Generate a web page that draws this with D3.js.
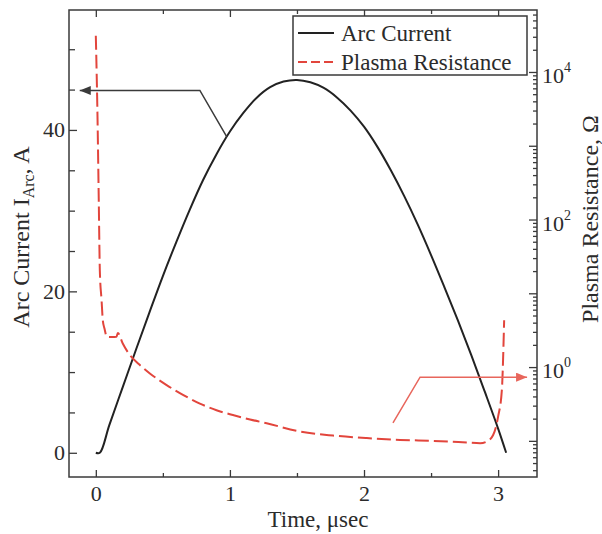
<!DOCTYPE html>
<html><head><meta charset="utf-8">
<script src="https://cdn.jsdelivr.net/npm/d3@7/dist/d3.min.js"></script>
<style>
body{margin:0;background:#fff}
text{font-family:"Liberation Serif","Times New Roman",serif;fill:#2b2b2b}
</style>
</head><body>
<svg id="chart" width="602" height="534"></svg>
<script>
// ---- data ----
const currentTime = [0, 0.03, 0.1, 0.2, 0.3, 0.4, 0.5, 0.6, 0.7, 0.8, 0.9, 1.0, 1.1, 1.2, 1.3, 1.4, 1.5, 1.6, 1.7, 1.8, 1.9, 2.0, 2.1, 2.2, 2.3, 2.4, 2.5, 2.6, 2.7, 2.8, 2.9, 3.0, 3.06];
const currentValues = [0, 0, 3.4, 8.1, 12.8, 17.4, 21.9, 26.1, 30.1, 33.8, 37.0, 39.8, 42.1, 44.0, 45.3, 46.0, 46.2, 45.9, 45.2, 44.0, 42.4, 40.4, 37.9, 35.0, 31.8, 28.3, 24.5, 20.5, 16.4, 12.1, 7.6, 3.0, 0];
const resistanceTime = [0, 0.013, 0.022, 0.03, 0.043, 0.052, 0.065, 0.082, 0.12, 0.154, 0.164, 0.2, 0.254, 0.32, 0.403, 0.528, 0.65, 0.776, 0.9, 1.022, 1.15, 1.274, 1.522, 1.769, 2.02, 2.269, 2.515, 2.766, 2.866, 2.916, 2.963, 3.0, 3.028, 3.045];
const resistanceValues = [3.1e4, 2.2e3, 180, 20, 8, 4.3, 3.3, 2.57, 2.55, 2.57, 2.9, 2.1, 1.45, 1.1, 0.82, 0.57, 0.42, 0.32, 0.26, 0.224, 0.195, 0.173, 0.134, 0.118, 0.109, 0.103, 0.1, 0.095, 0.093, 0.098, 0.12, 0.213, 0.49, 4.3];
const xTicks = [0, 1, 2, 3];
const xMinorTicks = [0.5, 1.5, 2.5];
const leftTicks = [0, 20, 40];
const leftMinorTicks = [5, 10, 15, 25, 30, 35, 45, 50];
const rightDecades = [0.1, 1, 10, 100, 1000, 10000];
const rightLabelTicks = [1, 100, 10000];
const rightLabelExp = ["0", "2", "4"];
const seriesNames = ["Arc Current", "Plasma Resistance"];
// annotation arrows (data coordinates)
const currentArrowT = [0.978, 0.776, -0.12];
const currentArrowI = [39.1, 44.9, 44.9];
const resArrowT = [2.216, 2.418, 3.216];
const resArrowR = [0.175, 0.73, 0.73];

// ---- layout ----
const L = 69, T = 10, R = 537, B = 477;
const svg = d3.select("#chart");
const x = d3.scaleLinear().domain([-0.2, 3.29]).range([L, R]);
const yL = d3.scaleLinear().domain([-3, 54.86]).range([B, T]);
const yR = d3.scaleLog().domain([Math.pow(10, -1.49), Math.pow(10, 4.84)]).range([B, T]);

const axisColor = "#3a3a3a";
const red = "#e2453c";

function styleAxis(g) {
  g.select(".domain").remove();
  g.selectAll(".tick line").attr("stroke", axisColor).attr("stroke-width", 1.3);
  g.selectAll(".tick text").attr("font-size", 22).attr("fill", "#2b2b2b")
   .attr("font-family", '"Liberation Serif","Times New Roman",serif');
}

// bottom axis
svg.append("g").attr("transform", `translate(0,${B})`)
  .call(d3.axisBottom(x).tickValues(xTicks).tickSize(-7).tickPadding(8).tickFormat(d3.format("d")))
  .call(styleAxis);
svg.append("g").attr("transform", `translate(0,${B})`)
  .call(d3.axisBottom(x).tickValues(xMinorTicks).tickSize(-4).tickFormat(""))
  .call(styleAxis);
// top axis
svg.append("g").attr("transform", `translate(0,${T})`)
  .call(d3.axisTop(x).tickValues(xTicks).tickSize(-7).tickFormat(""))
  .call(styleAxis);
svg.append("g").attr("transform", `translate(0,${T})`)
  .call(d3.axisTop(x).tickValues(xMinorTicks).tickSize(-4).tickFormat(""))
  .call(styleAxis);
// left axis
svg.append("g").attr("transform", `translate(${L},0)`)
  .call(d3.axisLeft(yL).tickValues(leftTicks).tickSize(-8).tickPadding(4))
  .call(styleAxis);
svg.append("g").attr("transform", `translate(${L},0)`)
  .call(d3.axisLeft(yL).tickValues(leftMinorTicks).tickSize(-6).tickFormat(""))
  .call(styleAxis);
// right axis (log)
const minorR = [];
rightDecades.forEach(d => { for (let k = 2; k <= 9; k++) { const v = d * k; if (v < yR.domain()[1]) minorR.push(v); } });
minorR.push(0.04, 0.05, 0.06, 0.07, 0.08, 0.09);
svg.append("g").attr("transform", `translate(${R},0)`)
  .call(d3.axisRight(yR).tickValues(minorR).tickSize(-4).tickFormat(""))
  .call(styleAxis);
svg.append("g").attr("transform", `translate(${R},0)`)
  .call(d3.axisRight(yR).tickValues(rightDecades).tickSize(-8).tickFormat(""))
  .call(styleAxis);
const rl = svg.append("g").selectAll("text").data(rightLabelTicks).join("text")
  .attr("x", R + 5).attr("y", d => yR(d) + 11).attr("font-size", 22);
rl.append("tspan").text("10");
rl.append("tspan").attr("font-size", 14).attr("dy", -11).text((d, i) => rightLabelExp[i]);

// frame
svg.append("rect").attr("x", L).attr("y", T).attr("width", R - L).attr("height", B - T)
  .attr("fill", "none").attr("stroke", axisColor).attr("stroke-width", 1.5);

// series
const curData = currentTime.map((t, i) => [t, currentValues[i]]);
const resData = resistanceTime.map((t, i) => [t, resistanceValues[i]]);
svg.append("path").datum(curData)
  .attr("d", d3.line().x(d => x(d[0])).y(d => yL(d[1])).curve(d3.curveCatmullRom.alpha(0.5)))
  .attr("fill", "none").attr("stroke", "#222").attr("stroke-width", 2);
svg.append("path").datum(resData)
  .attr("d", d3.line().x(d => x(d[0])).y(d => yR(d[1])).curve(d3.curveMonotoneX))
  .attr("fill", "none").attr("stroke", red).attr("stroke-width", 2).attr("stroke-dasharray", "14,5");

// arrowheads
const defs = svg.append("defs");
function marker(id, color) {
  defs.append("marker").attr("id", id).attr("markerUnits", "userSpaceOnUse")
    .attr("markerWidth", 12).attr("markerHeight", 10).attr("refX", 11).attr("refY", 4.5)
    .attr("orient", "auto")
    .append("path").attr("d", "M0,0 L11,4.5 L0,9 Z").attr("fill", color);
}
marker("arrBlack", "#3a3a3a");
marker("arrRed", "#e8665c");
svg.append("path")
  .attr("d", d3.line()(currentArrowT.map((t, i) => [x(t), yL(currentArrowI[i])])))
  .attr("fill", "none").attr("stroke", "#3a3a3a").attr("stroke-width", 1.5).attr("marker-end", "url(#arrBlack)");
svg.append("path")
  .attr("d", d3.line()(resArrowT.map((t, i) => [x(t), yR(resArrowR[i])])))
  .attr("fill", "none").attr("stroke", "#e8665c").attr("stroke-width", 1.5).attr("marker-end", "url(#arrRed)");

// legend
const lg = svg.append("g");
lg.append("rect").attr("x", 293).attr("y", 16).attr("width", 234).attr("height", 59)
  .attr("fill", "#fff").attr("stroke", "#3a3a3a").attr("stroke-width", 1.5);
lg.append("line").attr("x1", 298).attr("x2", 334).attr("y1", 33).attr("y2", 33)
  .attr("stroke", "#222").attr("stroke-width", 2);
lg.append("line").attr("x1", 298).attr("x2", 334).attr("y1", 62).attr("y2", 62)
  .attr("stroke", red).attr("stroke-width", 2).attr("stroke-dasharray", "9,4");
lg.selectAll("text.lt").data(seriesNames).join("text").attr("class", "lt")
  .attr("x", 341).attr("y", (d, i) => 41 + i * 29).attr("font-size", 23).text(d => d);

// axis titles
svg.append("text").attr("x", 318).attr("y", 527).attr("text-anchor", "middle")
  .attr("font-size", 23).text("Time, \u03bcsec");
const lt = svg.append("text").attr("transform", "translate(29,237) rotate(-90)")
  .attr("text-anchor", "middle").attr("font-size", 24);
lt.append("tspan").text("Arc Current I");
lt.append("tspan").attr("font-size", 16).attr("dy", 5).text("Arc");
lt.append("tspan").attr("dy", -5).text(", A");
svg.append("text").attr("transform", "translate(598,219) rotate(-90)")
  .attr("text-anchor", "middle").attr("font-size", 24).text("Plasma Resistance, \u03a9");
</script>
</body></html>
